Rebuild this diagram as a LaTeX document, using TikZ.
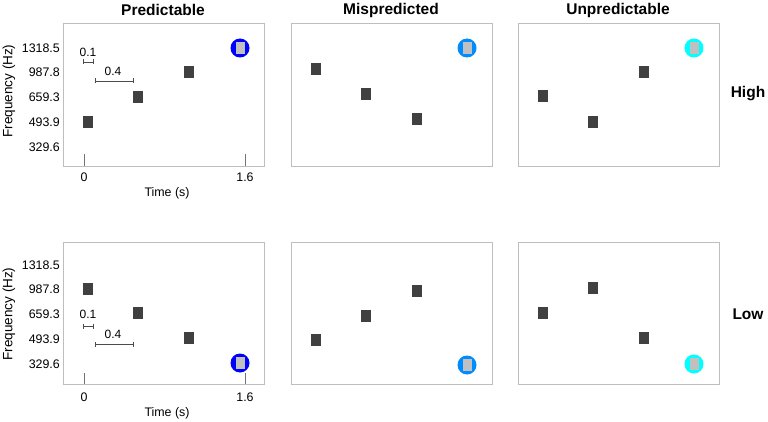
\documentclass[tikz,border=0pt]{standalone}
\usepackage{fontspec}
\setmainfont{Liberation Sans}
\usetikzlibrary{arrows.meta,positioning}

\definecolor{toneGray}{RGB}{64,64,64}
\definecolor{probeGray}{RGB}{192,192,192}
\definecolor{frameGray}{RGB}{190,190,190}
\definecolor{ringBlue}{RGB}{0,0,255}
\definecolor{ringMid}{RGB}{0,140,255}
\definecolor{ringCyan}{RGB}{0,255,255}

\begin{document}
\begin{tikzpicture}[x=1pt, y=-1pt,
      panel/.style={draw=frameGray, line width=0.9pt},
      tone/.style={rectangle, fill=toneGray, minimum width=10pt, minimum height=12pt, inner sep=0pt},
      probe/.style={rectangle, fill=probeGray, minimum width=9pt, minimum height=12pt, inner sep=0pt},
      ring/.style={circle, minimum size=19pt, inner sep=0pt},
      coltitle/.style={font=\bfseries\fontsize{15.5}{18}\selectfont},
      ticklabel/.style={font=\fontsize{12.4}{14}\selectfont, inner sep=0pt},
      durlabel/.style={font=\fontsize{12}{14}\selectfont, inner sep=0pt},
      axislabel/.style={font=\fontsize{13.5}{16}\selectfont},
      timetick/.style={draw=black!55, line width=0.8pt},
      durbar/.style={draw=black!70, line width=0.8pt, {Bar[width=5pt]}-{Bar[width=5pt]}}
]
      \useasboundingbox (0,0) rectangle (768,422);

      % column and row titles
      \node[coltitle] (tpred) at (163,10) {Predictable};
      \node[coltitle] (tmisp) at (391,10) {Mispredicted};
      \node[coltitle] (tunpr) at (618,10) {Unpredictable};
      \node[coltitle] (thigh) at (748,94) {High};
      \node[coltitle] (tlow) at (748,314) {Low};

      % panels
      \draw[panel] (63,23) rectangle (264,166);
      \draw[panel] (291,23) rectangle (492,166);
      \draw[panel] (518,23) rectangle (719,166);
      \draw[panel] (63,242) rectangle (264,384);
      \draw[panel] (291,242) rectangle (492,384);
      \draw[panel] (518,242) rectangle (719,384);

      % axes of the predictable panels
      \foreach \f/\yy in {1318.5/48, 987.8/72.5, 659.3/97, 493.9/122, 329.6/147} {
            \node[ticklabel, anchor=east] at (60,\yy) {\f};
            \node[ticklabel, anchor=east] at (60,\yy+217) {\f};
      }
      \node[axislabel, rotate=90] (fhigh) at (9,91) {Frequency (Hz)};
      \node[axislabel, rotate=90] (flow) at (9,314) {Frequency (Hz)};
      \draw[timetick] (84,154) -- (84,166);
      \draw[timetick] (245,154) -- (245,166);
      \draw[timetick] (84,373) -- (84,384);
      \draw[timetick] (245,373) -- (245,384);
      \node[ticklabel] (zhigh) at (84,177) {0};
      \node[ticklabel] (ehigh) at (245,177) {1.6};
      \node[ticklabel] (zlow) at (84,397) {0};
      \node[ticklabel] (elow) at (245,397) {1.6};
      \node[axislabel, font=\fontsize{12.4}{14}\selectfont] (xhigh) at (167,193) {Time (s)};
      \node[axislabel, font=\fontsize{12.4}{14}\selectfont] (xlow) at (167,413) {Time (s)};

      % duration bars
      \node[durlabel] (shorthigh) at (88,52) {0.1};
      \node[durlabel] (longhigh) at (113,71) {0.4};
      \coordinate (sh1) at (83,62); \coordinate (sh2) at (94,62);
      \coordinate (lh1) at (95,81); \coordinate (lh2) at (134,81);
      \draw[durbar] (sh1) -- (sh2);
      \draw[durbar] (lh1) -- (lh2);
      \node[durlabel] (shortlow) at (88,314) {0.1};
      \node[durlabel] (longlow) at (113,334) {0.4};
      \coordinate (sl1) at (83,326); \coordinate (sl2) at (94,326);
      \coordinate (ll1) at (95,344); \coordinate (ll2) at (134,344);
      \draw[durbar] (sl1) -- (sl2);
      \draw[durbar] (ll1) -- (ll2);

      % high targets
      \node[tone] (ph1) at (88,122) {};
      \node[tone] (ph2) at (138,97) {};
      \node[tone] (ph3) at (189,72) {};
      \node[ring, fill=ringBlue] (phr) at (240,48) {};
      \node[probe] (php) at (phr) {};

      \node[tone] (mh1) at (316,69) {};
      \node[tone] (mh2) at (366,94) {};
      \node[tone] (mh3) at (417,119) {};
      \node[ring, fill=ringMid] (mhr) at (467,48) {};
      \node[probe] (mhp) at (mhr) {};

      \node[tone] (uh1) at (543,96) {};
      \node[tone] (uh2) at (593,122) {};
      \node[tone] (uh3) at (644,72) {};
      \node[ring, fill=ringCyan] (uhr) at (694,48) {};
      \node[probe] (uhp) at (uhr) {};

      % low targets
      \node[tone] (pl1) at (88,289) {};
      \node[tone] (pl2) at (138,313) {};
      \node[tone] (pl3) at (189,338) {};
      \node[ring, fill=ringBlue] (plr) at (240,363) {};
      \node[probe] (plp) at (plr) {};

      \node[tone] (ml1) at (316,340) {};
      \node[tone] (ml2) at (366,316) {};
      \node[tone] (ml3) at (417,291) {};
      \node[ring, fill=ringMid] (mlr) at (467,365) {};
      \node[probe] (mlp) at (mlr) {};

      \node[tone] (ul1) at (543,313) {};
      \node[tone] (ul2) at (593,288) {};
      \node[tone] (ul3) at (644,338) {};
      \node[ring, fill=ringCyan] (ulr) at (694,364) {};
      \node[probe] (ulp) at (ulr) {};
\end{tikzpicture}
\end{document}
